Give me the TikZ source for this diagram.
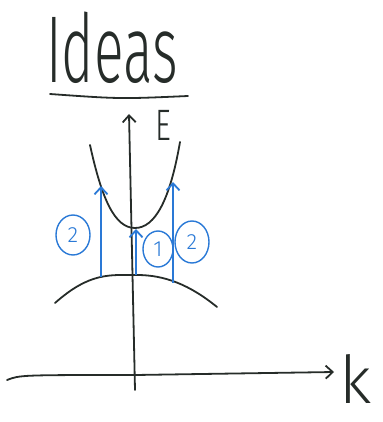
\documentclass[tikz,border=0pt]{standalone}
\usepackage{color}
\usepackage{tikz}
\usepackage{amsmath}
\usepackage{fontspec}
\newfontfamily\handfont{Fira Sans Light}
\usetikzlibrary{arrows.meta,shapes.geometric}
\definecolor{pen}{RGB}{38,44,41}
\definecolor{ink}{RGB}{42,121,214}
\tikzset{
  band/.style={draw=pen,line width=1.8pt,line cap=round},
  axis/.style={draw=pen,line width=1.8pt,line cap=round,-{Straight Barb[length=7pt,width=13pt]}},
  jump/.style={draw=ink,line width=1.8pt,-{Straight Barb[length=7pt,width=13pt]}},
  tag/.style={ellipse,draw=ink,line width=1.4pt,text=ink,inner sep=0pt,
    minimum width=34pt,minimum height=40pt,font=\handfont\fontsize{22}{22}\selectfont}
}
\begin{document}
\begin{tikzpicture}[x=1pt,y=-1pt]
\useasboundingbox (0,0) rectangle (382,422);
% title:
\node[anchor=base,xscale=0.58,text=pen,font=\handfont\fontsize{95}{95}\selectfont] (title) at (112,83) {Ideas};
\coordinate (ul1) at (50,94);
\coordinate (ul2) at (188,96);
\path[band] (ul1) .. controls (120,99) .. (ul2);
% axes:
\coordinate (Ebot) at (135,390);
\coordinate (Etop) at (129,114);
\coordinate (kleft) at (7,380);
\coordinate (kright) at (334,372);
\path[axis] (Ebot) -- (Etop);
\path[axis] (kleft) .. controls (20,375) .. (135,375) -- (kright);
\node[anchor=base west,xscale=0.7,text=pen,font=\handfont\fontsize{44}{44}\selectfont] (E) at (153,141) {E};
\node[anchor=base west,inner sep=0pt,text=pen,font=\handfont\fontsize{66}{66}\selectfont] (k) at (339,403) {k};
% bands:
\coordinate (cmin) at (135,228);
\coordinate (vmax) at (137,275);
\path[band] (90,145) .. controls (102,200) and (115,228) .. (cmin)
  .. controls (155,228) and (170,200) .. (180,142);
\path[band] (55,303) .. controls (90,272) and (110,275) .. (vmax)
  .. controls (165,275) and (190,285) .. (217,307);
% transitions:
\coordinate (a1) at (101,277);
\coordinate (b1) at (101,186);
\coordinate (a2) at (136,275);
\coordinate (b2) at (136,229);
\coordinate (a3) at (173,283);
\coordinate (b3) at (173,182);
\path[jump] (a1) -- (b1);
\path[jump] (a2) -- (b2);
\path[jump] (a3) -- (b3);
\node[tag] (twoL) at (73,235) {2};
\node[tag,minimum width=30pt,minimum height=36pt] (one) at (158,249) {1};
\node[tag,minimum width=34pt,minimum height=42pt] (twoR) at (192,242) {2};
\end{tikzpicture}
\end{document}
